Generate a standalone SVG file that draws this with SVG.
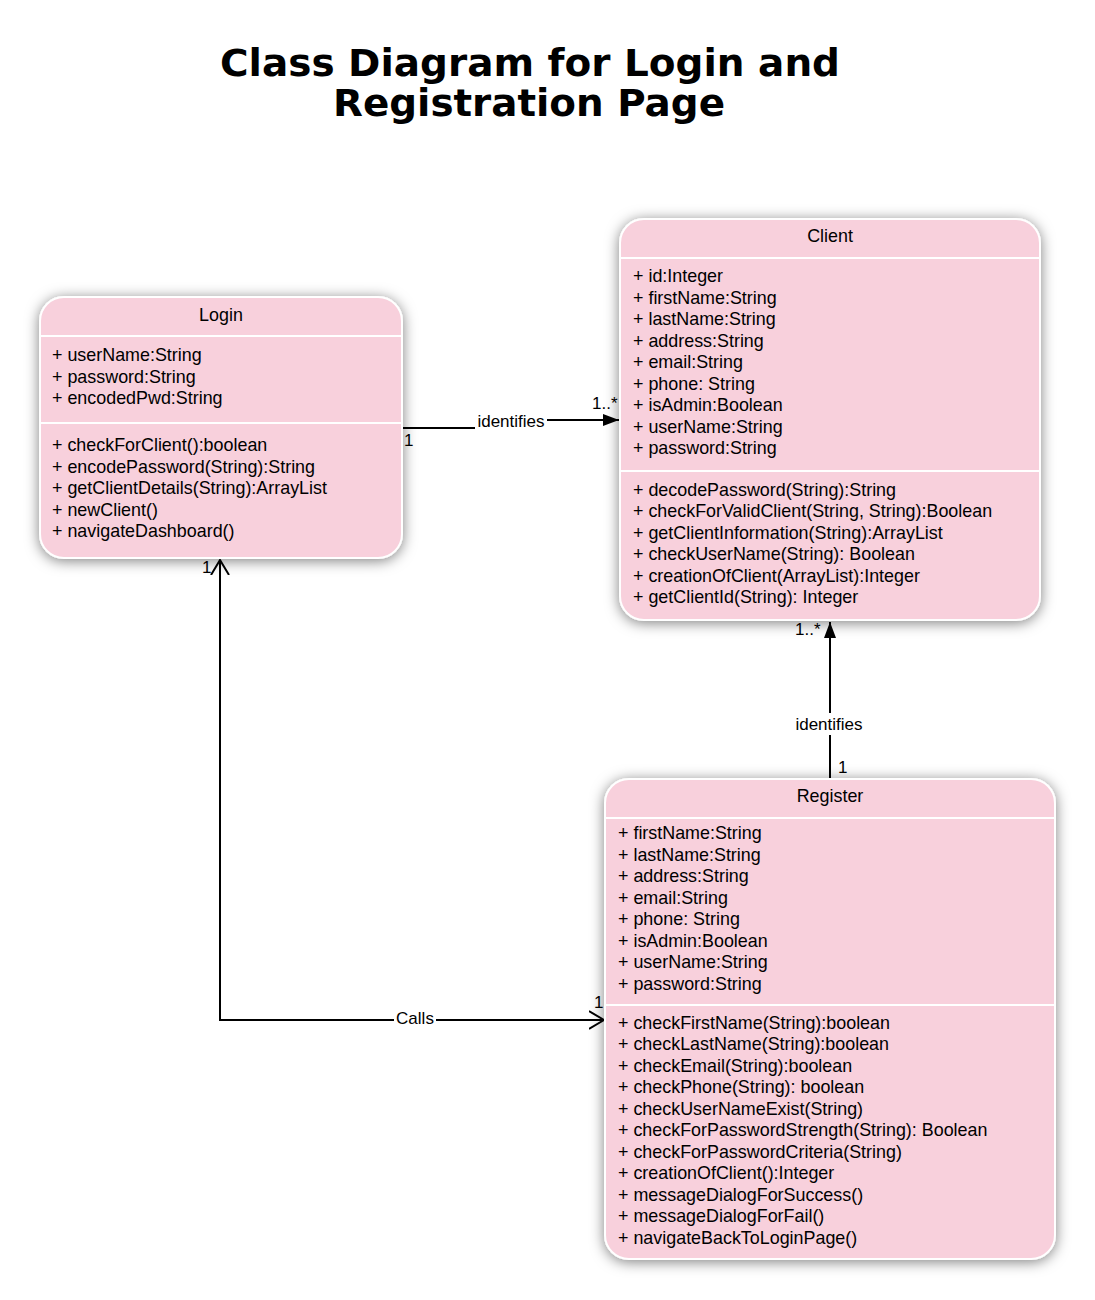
<svg xmlns="http://www.w3.org/2000/svg" width="1095" height="1300" viewBox="0 0 1095 1300">
<style>
.box{fill:#f8d0dc;stroke:#ffffff;stroke-width:2}
.div{stroke:#ffffff;stroke-width:2}
.t{font-family:"Liberation Sans",Arial,sans-serif;font-size:17.9px;fill:#000}
.h{text-anchor:middle}
.title{font-family:"DejaVu Sans","Liberation Sans",sans-serif;font-size:37px;font-weight:bold;text-anchor:middle;fill:#000}
.con{fill:none;stroke:#000;stroke-width:2}
.lbl{font-family:"Liberation Sans",Arial,sans-serif;font-size:17px;fill:#000}
</style>
<defs>
<filter id="sh" x="-10%" y="-10%" width="120%" height="120%">
<feDropShadow dx="0" dy="2" stdDeviation="7" flood-color="#000" flood-opacity="0.5"/>
</filter>
<marker id="fill" viewBox="0 0 16 12" refX="16" refY="6" markerWidth="16" markerHeight="12" markerUnits="userSpaceOnUse" orient="auto">
<path d="M0,0 L16,6 L0,12 Z" fill="#000"/>
</marker>
<marker id="open" viewBox="0 0 16 20" refX="15" refY="10" markerWidth="16" markerHeight="20" markerUnits="userSpaceOnUse" orient="auto-start-reverse">
<path d="M0,1 L15,10 L0,19" fill="none" stroke="#000" stroke-width="2"/>
</marker>
</defs>
<rect width="1095" height="1300" fill="#ffffff"/>
<text class="title" x="530" y="76" textLength="620" lengthAdjust="spacingAndGlyphs">Class Diagram for Login and</text>
<text class="title" x="529" y="116" textLength="392" lengthAdjust="spacingAndGlyphs">Registration Page</text>

<g id="connectors">
<path class="con" d="M402,428 H511 V420 H619" marker-end="url(#fill)"/>
<rect x="475" y="410" width="72" height="22" fill="#fff"/>
<text class="lbl h" x="511" y="427">identifies</text>
<text class="lbl" x="404" y="446">1</text>
<text class="lbl" x="592" y="409">1..*</text>

<path class="con" d="M830,779 V622" marker-end="url(#fill)"/>
<rect x="792" y="713" width="74" height="22" fill="#fff"/>
<text class="lbl h" x="829" y="730">identifies</text>
<text class="lbl" x="795" y="635">1..*</text>
<text class="lbl" x="838" y="773">1</text>

<path class="con" d="M220,560 V1020 H604" marker-start="url(#open)" marker-end="url(#open)"/>
<rect x="394" y="1008" width="42" height="20" fill="#fff"/>
<text class="lbl h" x="415" y="1024">Calls</text>
<text class="lbl" x="202" y="573">1</text>
<text class="lbl" x="594" y="1008">1</text>
</g>

<g id="login">
<rect class="box" x="40" y="297" width="362" height="261" rx="24" filter="url(#sh)"/>
<line class="div" x1="40" y1="336" x2="402" y2="336"/>
<line class="div" x1="40" y1="423" x2="402" y2="423"/>
<text class="t h" x="221" y="321">Login</text>
<text class="t" x="52" y="361">+ userName:String</text>
<text class="t" x="52" y="382.5">+ password:String</text>
<text class="t" x="52" y="404">+ encodedPwd:String</text>
<text class="t" x="52" y="451">+ checkForClient():boolean</text>
<text class="t" x="52" y="472.5">+ encodePassword(String):String</text>
<text class="t" x="52" y="494">+ getClientDetails(String):ArrayList</text>
<text class="t" x="52" y="515.5">+ newClient()</text>
<text class="t" x="52" y="537">+ navigateDashboard()</text>
</g>

<g id="client">
<rect class="box" x="620" y="219" width="420" height="401" rx="24" filter="url(#sh)"/>
<line class="div" x1="620" y1="258" x2="1040" y2="258"/>
<line class="div" x1="620" y1="471" x2="1040" y2="471"/>
<text class="t h" x="830" y="242">Client</text>
<text class="t" x="633" y="282">+ id:Integer</text>
<text class="t" x="633" y="303.5">+ firstName:String</text>
<text class="t" x="633" y="325">+ lastName:String</text>
<text class="t" x="633" y="346.5">+ address:String</text>
<text class="t" x="633" y="368">+ email:String</text>
<text class="t" x="633" y="389.5">+ phone: String</text>
<text class="t" x="633" y="411">+ isAdmin:Boolean</text>
<text class="t" x="633" y="432.5">+ userName:String</text>
<text class="t" x="633" y="454">+ password:String</text>
<text class="t" x="633" y="495.5">+ decodePassword(String):String</text>
<text class="t" x="633" y="517">+ checkForValidClient(String, String):Boolean</text>
<text class="t" x="633" y="538.5">+ getClientInformation(String):ArrayList</text>
<text class="t" x="633" y="560">+ checkUserName(String): Boolean</text>
<text class="t" x="633" y="581.5">+ creationOfClient(ArrayList):Integer</text>
<text class="t" x="633" y="603">+ getClientId(String): Integer</text>
</g>

<g id="register">
<rect class="box" x="605" y="779" width="450" height="480" rx="24" filter="url(#sh)"/>
<line class="div" x1="605" y1="818" x2="1055" y2="818"/>
<line class="div" x1="605" y1="1005" x2="1055" y2="1005"/>
<text class="t h" x="830" y="802">Register</text>
<text class="t" x="618" y="839">+ firstName:String</text>
<text class="t" x="618" y="860.5">+ lastName:String</text>
<text class="t" x="618" y="882">+ address:String</text>
<text class="t" x="618" y="903.5">+ email:String</text>
<text class="t" x="618" y="925">+ phone: String</text>
<text class="t" x="618" y="946.5">+ isAdmin:Boolean</text>
<text class="t" x="618" y="968">+ userName:String</text>
<text class="t" x="618" y="989.5">+ password:String</text>
<text class="t" x="618" y="1028.5">+ checkFirstName(String):boolean</text>
<text class="t" x="618" y="1050">+ checkLastName(String):boolean</text>
<text class="t" x="618" y="1071.5">+ checkEmail(String):boolean</text>
<text class="t" x="618" y="1093">+ checkPhone(String): boolean</text>
<text class="t" x="618" y="1114.5">+ checkUserNameExist(String)</text>
<text class="t" x="618" y="1136">+ checkForPasswordStrength(String): Boolean</text>
<text class="t" x="618" y="1157.5">+ checkForPasswordCriteria(String)</text>
<text class="t" x="618" y="1179">+ creationOfClient():Integer</text>
<text class="t" x="618" y="1200.5">+ messageDialogForSuccess()</text>
<text class="t" x="618" y="1222">+ messageDialogForFail()</text>
<text class="t" x="618" y="1243.5">+ navigateBackToLoginPage()</text>
</g>
</svg>
